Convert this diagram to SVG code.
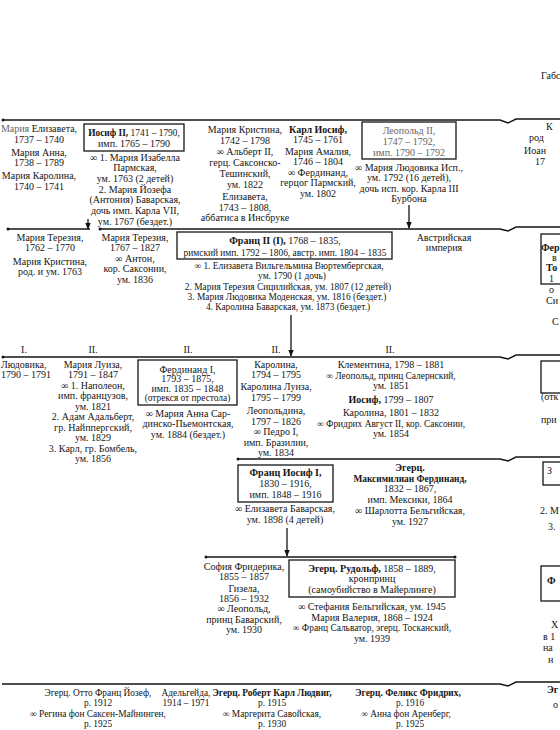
<svg xmlns="http://www.w3.org/2000/svg" width="560" height="730" viewBox="0 0 560 730">
<defs>
<marker id="ah" viewBox="0 0 10 10" refX="9" refY="5" markerWidth="7" markerHeight="7" orient="auto" markerUnits="userSpaceOnUse"><path d="M0,1 L10,5 L0,9 z" fill="#111"/></marker>
<style>
text{font-family:"Liberation Serif","DejaVu Serif",serif;font-size:10px;fill:#151515;text-anchor:middle}
.s{text-anchor:start}
.b{font-weight:bold}
.g{fill:#666}
.n{font-size:9.4px}
.box{fill:none;stroke:#151515;stroke-width:1.3}
.ln{fill:none;stroke:#151515;stroke-width:1.5}
.ar{fill:none;stroke:#151515;stroke-width:1.3;marker-end:url(#ah)}
</style>
</defs>
<rect width="560" height="730" fill="#fff"/>

<g id="connectors">
<path class="ln" d="M2,120 H500 L508,123 L516,119 H560"/>
<circle cx="3" cy="120" r="1.5" fill="#151515"/>
<path class="ln" d="M8,229 H90"/>
<circle cx="8" cy="229" r="1.5" fill="#151515"/>
<path class="ar" d="M88,219 V229"/>
<path class="ln" d="M100,229 H500 L508,231 L516,227 H560"/>
<circle cx="100" cy="229" r="1.5" fill="#151515"/>
<path class="ar" d="M409,205 V228"/>
<path class="ar" d="M291,315 V356"/>
<path class="ln" d="M2,357 H500 L508,359 L516,355 H560"/>
<circle cx="3" cy="357" r="1.5" fill="#151515"/>
<path class="ln" d="M238,459 H500 L508,461 L516,457 H560"/>
<circle cx="238" cy="459" r="1.5" fill="#151515"/>
<path class="ar" d="M287,528 V556"/>
<path class="ln" d="M206,557 H455"/>
<circle cx="206" cy="557" r="1.5" fill="#151515"/>
<circle cx="455" cy="557" r="1.5" fill="#151515"/>
<path class="ln" d="M2,684 H500 L508,686 L516,682 H560"/>
</g>

<g id="title"><text class="s" x="541" y="79">Габс</text></g>

<g id="maria-elisabeth">
<text x="39" y="132"><tspan class="g">Мария</tspan> Елизавета,</text>
<text x="39" y="143">1737 – 1740</text>
<text x="39" y="156">Мария Анна,</text>
<text x="39" y="166">1738 – 1789</text>
<text x="39" y="179">Мария Каролина,</text>
<text x="39" y="190">1740 – 1741</text>
</g>

<g id="joseph2">
<rect class="box" x="84" y="124" width="100" height="27"/>
<text class="n" x="134" y="136"><tspan class="b">Иосиф II,</tspan> 1741 – 1790,</text>
<text x="134" y="147">имп. 1765 – 1790</text>
<text x="135" y="160.5">∞ 1. Мария Изабелла</text>
<text x="135" y="171">Пармская,</text>
<text x="135" y="182">ум. 1763 (2 детей)</text>
<text x="135" y="192.5">2.  Мария Йозефа</text>
<text x="135" y="203">(Антония) Баварская,</text>
<text x="135" y="214">дочь имп. Карла VII,</text>
<text x="135" y="224.5">ум. 1767 (бездет.)</text>
</g>

<g id="maria-christina">
<text x="245" y="132.5">Мария Кристина,</text>
<text x="245" y="143.5">1742 – 1798</text>
<text x="245" y="154.5">∞ Альберт II,</text>
<text x="245" y="165.5">герц. Саксонско-</text>
<text x="245" y="176.5">Тешинский,</text>
<text x="245" y="187.5">ум. 1822</text>
<text x="245" y="199.5">Елизавета,</text>
<text x="245" y="210.5">1743 – 1808,</text>
<text x="245" y="220.5">аббатиса в Инсбруке</text>
</g>

<g id="karl-joseph">
<text class="b" x="318" y="132.5">Карл Иосиф,</text>
<text x="318" y="143">1745 – 1761</text>
<text x="318" y="154.5">Мария Амалия,</text>
<text x="318" y="165">1746 – 1804</text>
<text x="318" y="175.5">∞ Фердинанд,</text>
<text x="318" y="186">герцог Пармский,</text>
<text x="318" y="196.5">ум. 1802</text>
</g>

<g id="leopold2">
<rect class="box" x="362" y="122" width="94" height="37"/>
<text class="g" x="409" y="134">Леопольд II,</text>
<text class="g" x="409" y="145">1747 – 1792,</text>
<text class="g" x="409" y="156">имп. 1790 – 1792</text>
<text x="409" y="170.5">∞ Мария Людовика Исп.,</text>
<text x="409" y="181">ум. 1792 (16 детей),</text>
<text x="409" y="191.5">дочь исп. кор. Карла III</text>
<text x="409" y="201.5">Бурбона</text>
</g>

<g id="right-col-1">
<text class="s" x="546" y="129.5">К</text>
<text class="s" x="529" y="140.5">род</text>
<text class="s" x="524" y="153.5">Иоан</text>
<text class="s" x="535" y="165">17</text>
</g>

<g id="maria-theresa-1762">
<text x="50" y="240.5">Мария Терезия,</text>
<text x="50" y="251">1762 – 1770</text>
<text x="50" y="264.5">Мария Кристина,</text>
<text x="50" y="275">род. и ум. 1763</text>
</g>

<g id="maria-theresa-1767">
<text x="135" y="240.5">Мария Терезия,</text>
<text x="135" y="251">1767 – 1827</text>
<text x="135" y="261.5">∞ Антон,</text>
<text x="135" y="272">кор. Саксонии,</text>
<text x="135" y="283">ум. 1836</text>
</g>

<g id="franz2">
<rect class="box" x="177" y="232" width="215" height="27"/>
<text x="285" y="244"><tspan class="b">Франц II (I),</tspan> 1768 – 1835,</text>
<text class="n" x="285" y="255.5">римский имп. 1792 – 1806, австр. имп. 1804 – 1835</text>
<text class="n" x="289" y="268.5">∞ 1. Елизавета Вильгельмина Вюртембергская,</text>
<text class="n" x="292" y="279">ум. 1790 (1 дочь)</text>
<text class="n" x="288" y="289.5">2. Мария Терезия Сицилийская, ум. 1807 (12 детей)</text>
<text class="n" x="287" y="299.5">3. Мария Людовика Моденская, ум. 1816 (бездет.)</text>
<text class="n" x="288" y="310">4. Каролина Баварская, ум. 1873 (бездет.)</text>
</g>

<g id="austrian-empire">
<text x="444" y="240.5">Австрийская</text>
<text x="444" y="251">империя</text>
</g>

<g id="right-col-2">
<rect class="box" x="541" y="234" width="40" height="50"/>
<text class="s b" x="541" y="251">Фер</text>
<text class="s" x="552" y="261">в</text>
<text class="s b" x="546" y="271">То</text>
<text class="s" x="549" y="282">1</text>
<text class="s" x="549" y="293">о</text>
<text class="s" x="546" y="304">Си</text>
<text class="s" x="552" y="325">С</text>
</g>

<g id="numerals">
<text x="24" y="353">I.</text>
<text x="93" y="353">II.</text>
<text x="188" y="353">II.</text>
<text x="276" y="353">II.</text>
<text x="390" y="353">II.</text>
</g>

<g id="ludovika">
<text class="s" x="1" y="367.5">Людовика,</text>
<text class="s" x="1" y="378">1790 – 1791</text>
</g>

<g id="maria-louise">
<text x="93" y="367.5">Мария Луиза,</text>
<text x="93" y="378">1791 – 1847</text>
<text x="93" y="388.5">∞ 1. Наполеон,</text>
<text x="93" y="399">имп. французов,</text>
<text x="93" y="409.5">ум. 1821</text>
<text x="93" y="420">2. Адам Адальберт,</text>
<text x="93" y="430.5">гр. Найппергский,</text>
<text x="93" y="441">ум. 1829</text>
<text x="93" y="451.5">3. Карл, гр. Бомбель,</text>
<text x="93" y="462">ум. 1856</text>
</g>

<g id="ferdinand1">
<rect class="box" x="138" y="360" width="99" height="45"/>
<text x="187.5" y="372.5">Фердинанд I,</text>
<text x="187.5" y="382">1793 – 1875,</text>
<text x="187.5" y="391.5">имп. 1835 – 1848</text>
<text class="n" x="187.5" y="401">(отрекся от престола)</text>
<text x="188" y="416.5">∞ Мария Анна Сар-</text>
<text x="188" y="427">динско-Пьемонтская,</text>
<text x="188" y="437.5">ум. 1884 (бездет.)</text>
</g>

<g id="caroline">
<text x="276" y="367.5">Каролина,</text>
<text x="276" y="378">1794 – 1795</text>
<text x="276" y="389.5">Каролина Луиза,</text>
<text x="276" y="400.5">1795 – 1799</text>
<text x="276" y="413.5">Леопольдина,</text>
<text x="276" y="424.5">1797 – 1826</text>
<text x="276" y="435">∞ Педро I,</text>
<text x="276" y="445.5">имп. Бразилии,</text>
<text x="276" y="456">ум. 1834</text>
</g>

<g id="clementine">
<text x="391" y="367.5">Клементина, 1798 – 1881</text>
<text class="n" x="391" y="378.5">∞ Леопольд, принц Салернский,</text>
<text x="391" y="389">ум. 1851</text>
<text x="391" y="402.5"><tspan class="b">Иосиф,</tspan> 1799 – 1807</text>
<text x="391" y="415.5">Каролина, 1801 – 1832</text>
<text class="n" x="391" y="426.5">∞ Фридрих Август II, кор. Саксонии,</text>
<text x="391" y="437">ум. 1854</text>
</g>

<g id="right-col-3">
<rect class="box" x="541" y="361" width="40" height="32"/>
<text class="s" x="541" y="400">(отк</text>
<text class="s" x="541" y="423">при</text>
</g>

<g id="franz-joseph">
<rect class="box" x="238" y="465" width="95" height="37"/>
<text class="b" x="285.5" y="476">Франц Иосиф I,</text>
<text x="285.5" y="487">1830 – 1916,</text>
<text x="285.5" y="498">имп. 1848 – 1916</text>
<text x="285" y="511.5">∞ Елизавета Баварская,</text>
<text x="285" y="522.5">ум. 1898 (4 детей)</text>
</g>

<g id="maximilian">
<text class="b" x="410" y="470.5">Эгерц.</text>
<text class="b n" x="410" y="481.5">Максимилиан Фердинанд,</text>
<text x="410" y="492">1832 – 1867,</text>
<text x="410" y="503">имп. Мексики, 1864</text>
<text x="410" y="514">∞ Шарлотта Бельгийская,</text>
<text x="410" y="524.5">ум. 1927</text>
</g>

<g id="right-col-4">
<rect class="box" x="543" y="462" width="40" height="23"/>
<text class="s" x="547" y="474">З</text>
<text class="s" x="540" y="514">2. М</text>
<text class="s" x="548" y="530">3.</text>
</g>

<g id="sophie-gisela">
<text x="244" y="569.5">София Фридерика,</text>
<text x="244" y="579.5">1855 – 1857</text>
<text x="244" y="591.5">Гизела,</text>
<text x="244" y="602">1856 – 1932</text>
<text x="244" y="612">∞ Леопольд,</text>
<text x="244" y="622.5">принц Баварский,</text>
<text x="244" y="633">ум. 1930</text>
</g>

<g id="rudolf">
<rect class="box" x="289" y="560" width="166" height="37"/>
<text x="372" y="571.5"><tspan class="b">Эгерц. Рудольф,</tspan> 1858 – 1889,</text>
<text x="372" y="582">кронпринц</text>
<text x="372" y="592.5">(самоубийство в Майерлинге)</text>
<text x="372" y="609.5">∞ Стефания Бельгийская, ум. 1945</text>
<text x="372" y="620.5">Мария Валерия, 1868 – 1924</text>
<text class="n" x="372" y="631">∞ Франц Сальватор, эгерц. Тосканский,</text>
<text x="372" y="641.5">ум. 1939</text>
</g>

<g id="right-col-5">
<rect class="box" x="541" y="566" width="40" height="35"/>
<text class="s b" x="547" y="584">Ф</text>
<text class="s" x="551" y="628">Х</text>
<text class="s" x="543" y="640">в 1</text>
<text class="s" x="543" y="651">на</text>
<text class="s" x="548" y="663">н</text>
</g>

<g id="otto">
<text class="n" x="98" y="695.5">Эгерц. Отто Франц Йозеф,</text>
<text class="n" x="98" y="705.5">р. 1912</text>
<text class="n" x="98" y="716.5">∞ Регина фон Саксен-Майнинген,</text>
<text class="n" x="98" y="726.5">р. 1925</text>
</g>

<g id="adelheid">
<text class="n" x="186" y="695.5">Адельгейда,</text>
<text class="n" x="186" y="705.5">1914 – 1971</text>
</g>

<g id="robert">
<text class="b n" x="272" y="695.5">Эгерц. Роберт Карл Людвиг,</text>
<text class="n" x="272" y="705.5">р. 1915</text>
<text class="n" x="272" y="716.5">∞ Маргерита Савойская,</text>
<text class="n" x="272" y="726.5">р. 1930</text>
</g>

<g id="felix">
<text class="b n" x="408" y="695.5">Эгерц. Феликс Фридрих,</text>
<text class="n" x="410" y="705.5">р. 1916</text>
<text class="n" x="406" y="716.5">∞ Анна фон Аренберг,</text>
<text class="n" x="410" y="726.5">р. 1925</text>
</g>

<g id="right-col-6">
<text class="s b" x="547" y="693">Эг</text>
<text class="s" x="553" y="708">о</text>
</g>
</svg>
